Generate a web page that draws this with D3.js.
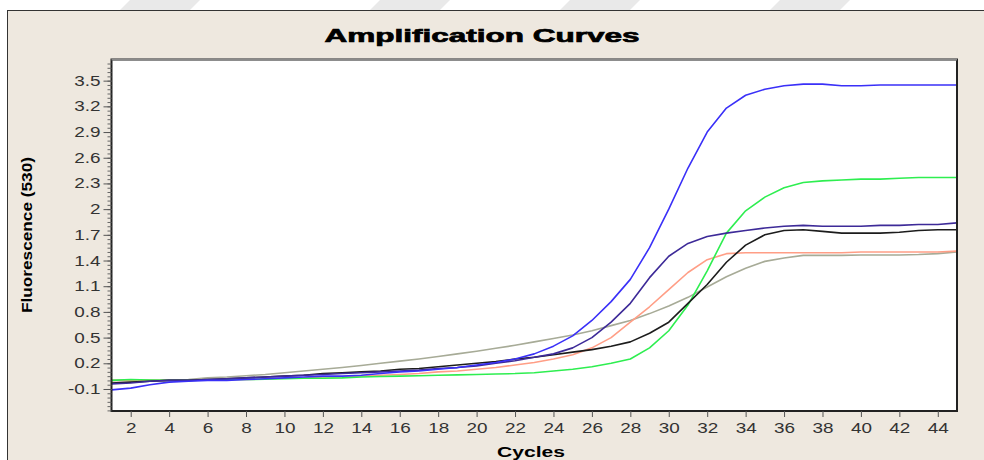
<!DOCTYPE html>
<html>
<head>
<meta charset="utf-8">
<script src="https://cdn.jsdelivr.net/npm/d3@7"></script>
<style>
  body { margin: 0; background: #ffffff; }
  svg { display: block; }
  .tick text { font-family: "Liberation Sans", Arial, sans-serif; font-size: 14px; fill: #333; }
</style>
</head>
<body>
<svg id="chart" width="984" height="460"></svg>
<script>
// cycles on the x axis
var cycles = [1,2,3,4,5,6,7,8,9,10,11,12,13,14,15,16,17,18,19,20,21,22,23,24,25,26,27,28,29,30,31,32,33,34,35,36,37,38,39,40,41,42,43,44,45];

// fluorescence readings per curve
var blueCurve  = [-0.11,-0.09,-0.05,-0.02,-0.01,0.0,0.0,0.01,0.02,0.03,0.04,0.05,0.05,0.06,0.08,0.1,0.11,0.13,0.15,0.18,0.21,0.25,0.31,0.4,0.52,0.7,0.92,1.18,1.55,2.0,2.48,2.9,3.18,3.33,3.4,3.44,3.46,3.46,3.44,3.44,3.45,3.45,3.45,3.45,3.45];
var navyCurve  = [-0.04,-0.03,-0.01,0.0,0.0,0.01,0.02,0.03,0.04,0.05,0.06,0.07,0.08,0.09,0.1,0.11,0.12,0.14,0.15,0.17,0.2,0.23,0.27,0.31,0.38,0.5,0.68,0.9,1.2,1.45,1.6,1.68,1.72,1.75,1.78,1.8,1.81,1.8,1.8,1.8,1.81,1.81,1.82,1.82,1.84];
var blackCurve = [-0.03,-0.02,-0.01,0.0,0.0,0.01,0.02,0.03,0.04,0.05,0.06,0.08,0.09,0.1,0.11,0.13,0.14,0.16,0.18,0.2,0.22,0.25,0.27,0.3,0.33,0.36,0.4,0.45,0.55,0.68,0.9,1.12,1.38,1.58,1.7,1.75,1.76,1.74,1.72,1.72,1.72,1.73,1.75,1.76,1.76];
var salmonCurve = [0.0,0.0,0.0,0.0,0.0,0.005,0.01,0.01,0.02,0.025,0.03,0.04,0.04,0.05,0.06,0.07,0.08,0.1,0.11,0.13,0.15,0.18,0.21,0.25,0.3,0.38,0.5,0.68,0.86,1.06,1.26,1.41,1.48,1.49,1.49,1.49,1.49,1.49,1.49,1.5,1.5,1.5,1.5,1.5,1.51];
var grayCurve  = [0.0,0.0,0.0,0.005,0.01,0.03,0.04,0.055,0.07,0.09,0.11,0.13,0.15,0.175,0.2,0.225,0.25,0.28,0.31,0.34,0.375,0.41,0.45,0.49,0.53,0.58,0.64,0.7,0.78,0.87,0.97,1.09,1.21,1.31,1.39,1.43,1.46,1.46,1.46,1.465,1.465,1.465,1.47,1.48,1.5];
var greenCurve = [0.0,0.01,0.005,0.0,0.0,0.005,0.01,0.01,0.015,0.02,0.025,0.025,0.03,0.04,0.045,0.05,0.055,0.06,0.065,0.07,0.075,0.08,0.09,0.11,0.13,0.16,0.2,0.25,0.38,0.58,0.88,1.28,1.72,1.98,2.14,2.25,2.31,2.33,2.34,2.35,2.35,2.36,2.37,2.37,2.37];

var xTicks = [2,4,6,8,10,12,14,16,18,20,22,24,26,28,30,32,34,36,38,40,42,44];
var yTicks = [-0.1,0.2,0.5,0.8,1.1,1.4,1.7,2,2.3,2.6,2.9,3.2,3.5];

var series = [
    {values: grayCurve,   color: "#a7ab97"},
    {values: salmonCurve, color: "#ff9e86"},
    {values: greenCurve,  color: "#2eee50"},
    {values: blackCurve,  color: "#1c1c1c"},
    {values: navyCurve,   color: "#3d2a98"},
    {values: blueCurve,   color: "#3a30f8"}
];

var svg = d3.select("#chart");
var plot = {left: 111.5, right: 957, top: 59.5, bottom: 411};
var stretch = 1.35;   // picture is wider than the font

// white strip + faint watermark stripes at the top
svg.append("rect").attr("width", 984).attr("height", 460).attr("fill", "#fff");
[130, 380, 570, 780].forEach(function(x0)
{
    svg.append("polygon")
        .attr("points", [[x0, 0], [x0 + 70, 0], [x0 + 60, 10], [x0 - 10, 10]].join(" "))
        .attr("fill", "#e9e9e9");
});

// beige panel
svg.append("rect")
    .attr("x", 7.5).attr("y", 10.5)
    .attr("width", 990).attr("height", 460)
    .attr("fill", "#eee8df")
    .attr("stroke", "#333").attr("stroke-width", 1);

// plot background
svg.append("rect")
    .attr("x", plot.left).attr("y", plot.top)
    .attr("width", plot.right - plot.left).attr("height", plot.bottom - plot.top)
    .attr("fill", "#fff");

var xScale = d3.scaleLinear().domain([1, 45]).range([plot.left, plot.right]);
var yScale = d3.scaleLinear().domain([-0.357, 3.747]).range([plot.bottom, plot.top]);

svg.append("clipPath").attr("id", "clip")
    .append("rect")
    .attr("x", plot.left).attr("y", plot.top)
    .attr("width", plot.right - plot.left).attr("height", plot.bottom - plot.top);

var line = d3.line()
    .x(function(d, i) { return xScale(cycles[i]); })
    .y(function(d) { return yScale(d); });

svg.append("g").attr("clip-path", "url(#clip)")
    .selectAll("path")
    .data(series)
    .enter()
    .append("path")
    .attr("d", function(s) { return line(s.values); })
    .attr("fill", "none")
    .attr("stroke", function(s) { return s.color; })
    .attr("stroke-width", 1.6)
    .attr("stroke-linejoin", "round");

// frame of the plot
svg.append("rect")
    .attr("x", plot.left).attr("y", plot.top)
    .attr("width", plot.right - plot.left).attr("height", plot.bottom - plot.top)
    .attr("fill", "none")
    .attr("stroke", "#222").attr("stroke-width", 2);
svg.append("line")
    .attr("x1", plot.left).attr("x2", plot.right)
    .attr("y1", plot.top).attr("y2", plot.top)
    .attr("stroke", "#8a8a8a").attr("stroke-width", 2);

// y minor ticks
var yMinor = svg.append("g")
    .attr("transform", "translate(" + plot.left + ",0)")
    .call(d3.axisLeft(yScale).tickValues(yScale.ticks(80)).tickSize(4).tickFormat(""));
yMinor.select(".domain").remove();
yMinor.selectAll("line").attr("stroke", "#666");

// y major ticks
var yAxis = svg.append("g")
    .attr("transform", "translate(" + plot.left + ",0)")
    .call(d3.axisLeft(yScale)
        .tickValues(yTicks)
        .tickSize(8)
        .tickPadding(3)
        .tickFormat(function(d) { return String(+d.toFixed(1)); }));
yAxis.select(".domain").remove();
yAxis.selectAll("line").attr("stroke", "#555");

// x ticks
var xAxis = svg.append("g")
    .attr("transform", "translate(0," + plot.bottom + ")")
    .call(d3.axisBottom(xScale).tickValues(xTicks).tickSize(6).tickPadding(6).tickFormat(d3.format("d")));
xAxis.select(".domain").remove();
xAxis.selectAll("line").attr("stroke", "#555");

// widen the tick labels like the picture
svg.selectAll(".tick text").each(function()
{
    var w = this.getComputedTextLength();
    d3.select(this)
        .attr("textLength", w * stretch)
        .attr("lengthAdjust", "spacingAndGlyphs");
});

// title
svg.append("text")
    .attr("x", 482).attr("y", 42)
    .attr("text-anchor", "middle")
    .attr("textLength", 315)
    .attr("lengthAdjust", "spacingAndGlyphs")
    .style("font-family", "'Liberation Sans', Arial, sans-serif")
    .style("font-size", "19px")
    .style("font-weight", "bold")
    .style("stroke", "#000")
    .style("stroke-width", 0.7)
    .text("Amplification Curves");

// axis titles
svg.append("text")
    .attr("transform", "translate(32,235) rotate(-90)")
    .attr("text-anchor", "middle")
    .attr("textLength", 156)
    .attr("lengthAdjust", "spacingAndGlyphs")
    .style("font-family", "'Liberation Sans', Arial, sans-serif")
    .style("font-size", "15px")
    .style("font-weight", "bold")
    .text("Fluorescence (530)");

svg.append("text")
    .attr("x", 531).attr("y", 457)
    .attr("text-anchor", "middle")
    .attr("textLength", 68)
    .attr("lengthAdjust", "spacingAndGlyphs")
    .style("font-family", "'Liberation Sans', Arial, sans-serif")
    .style("font-size", "15px")
    .style("font-weight", "bold")
    .text("Cycles");
</script>
</body>
</html>
